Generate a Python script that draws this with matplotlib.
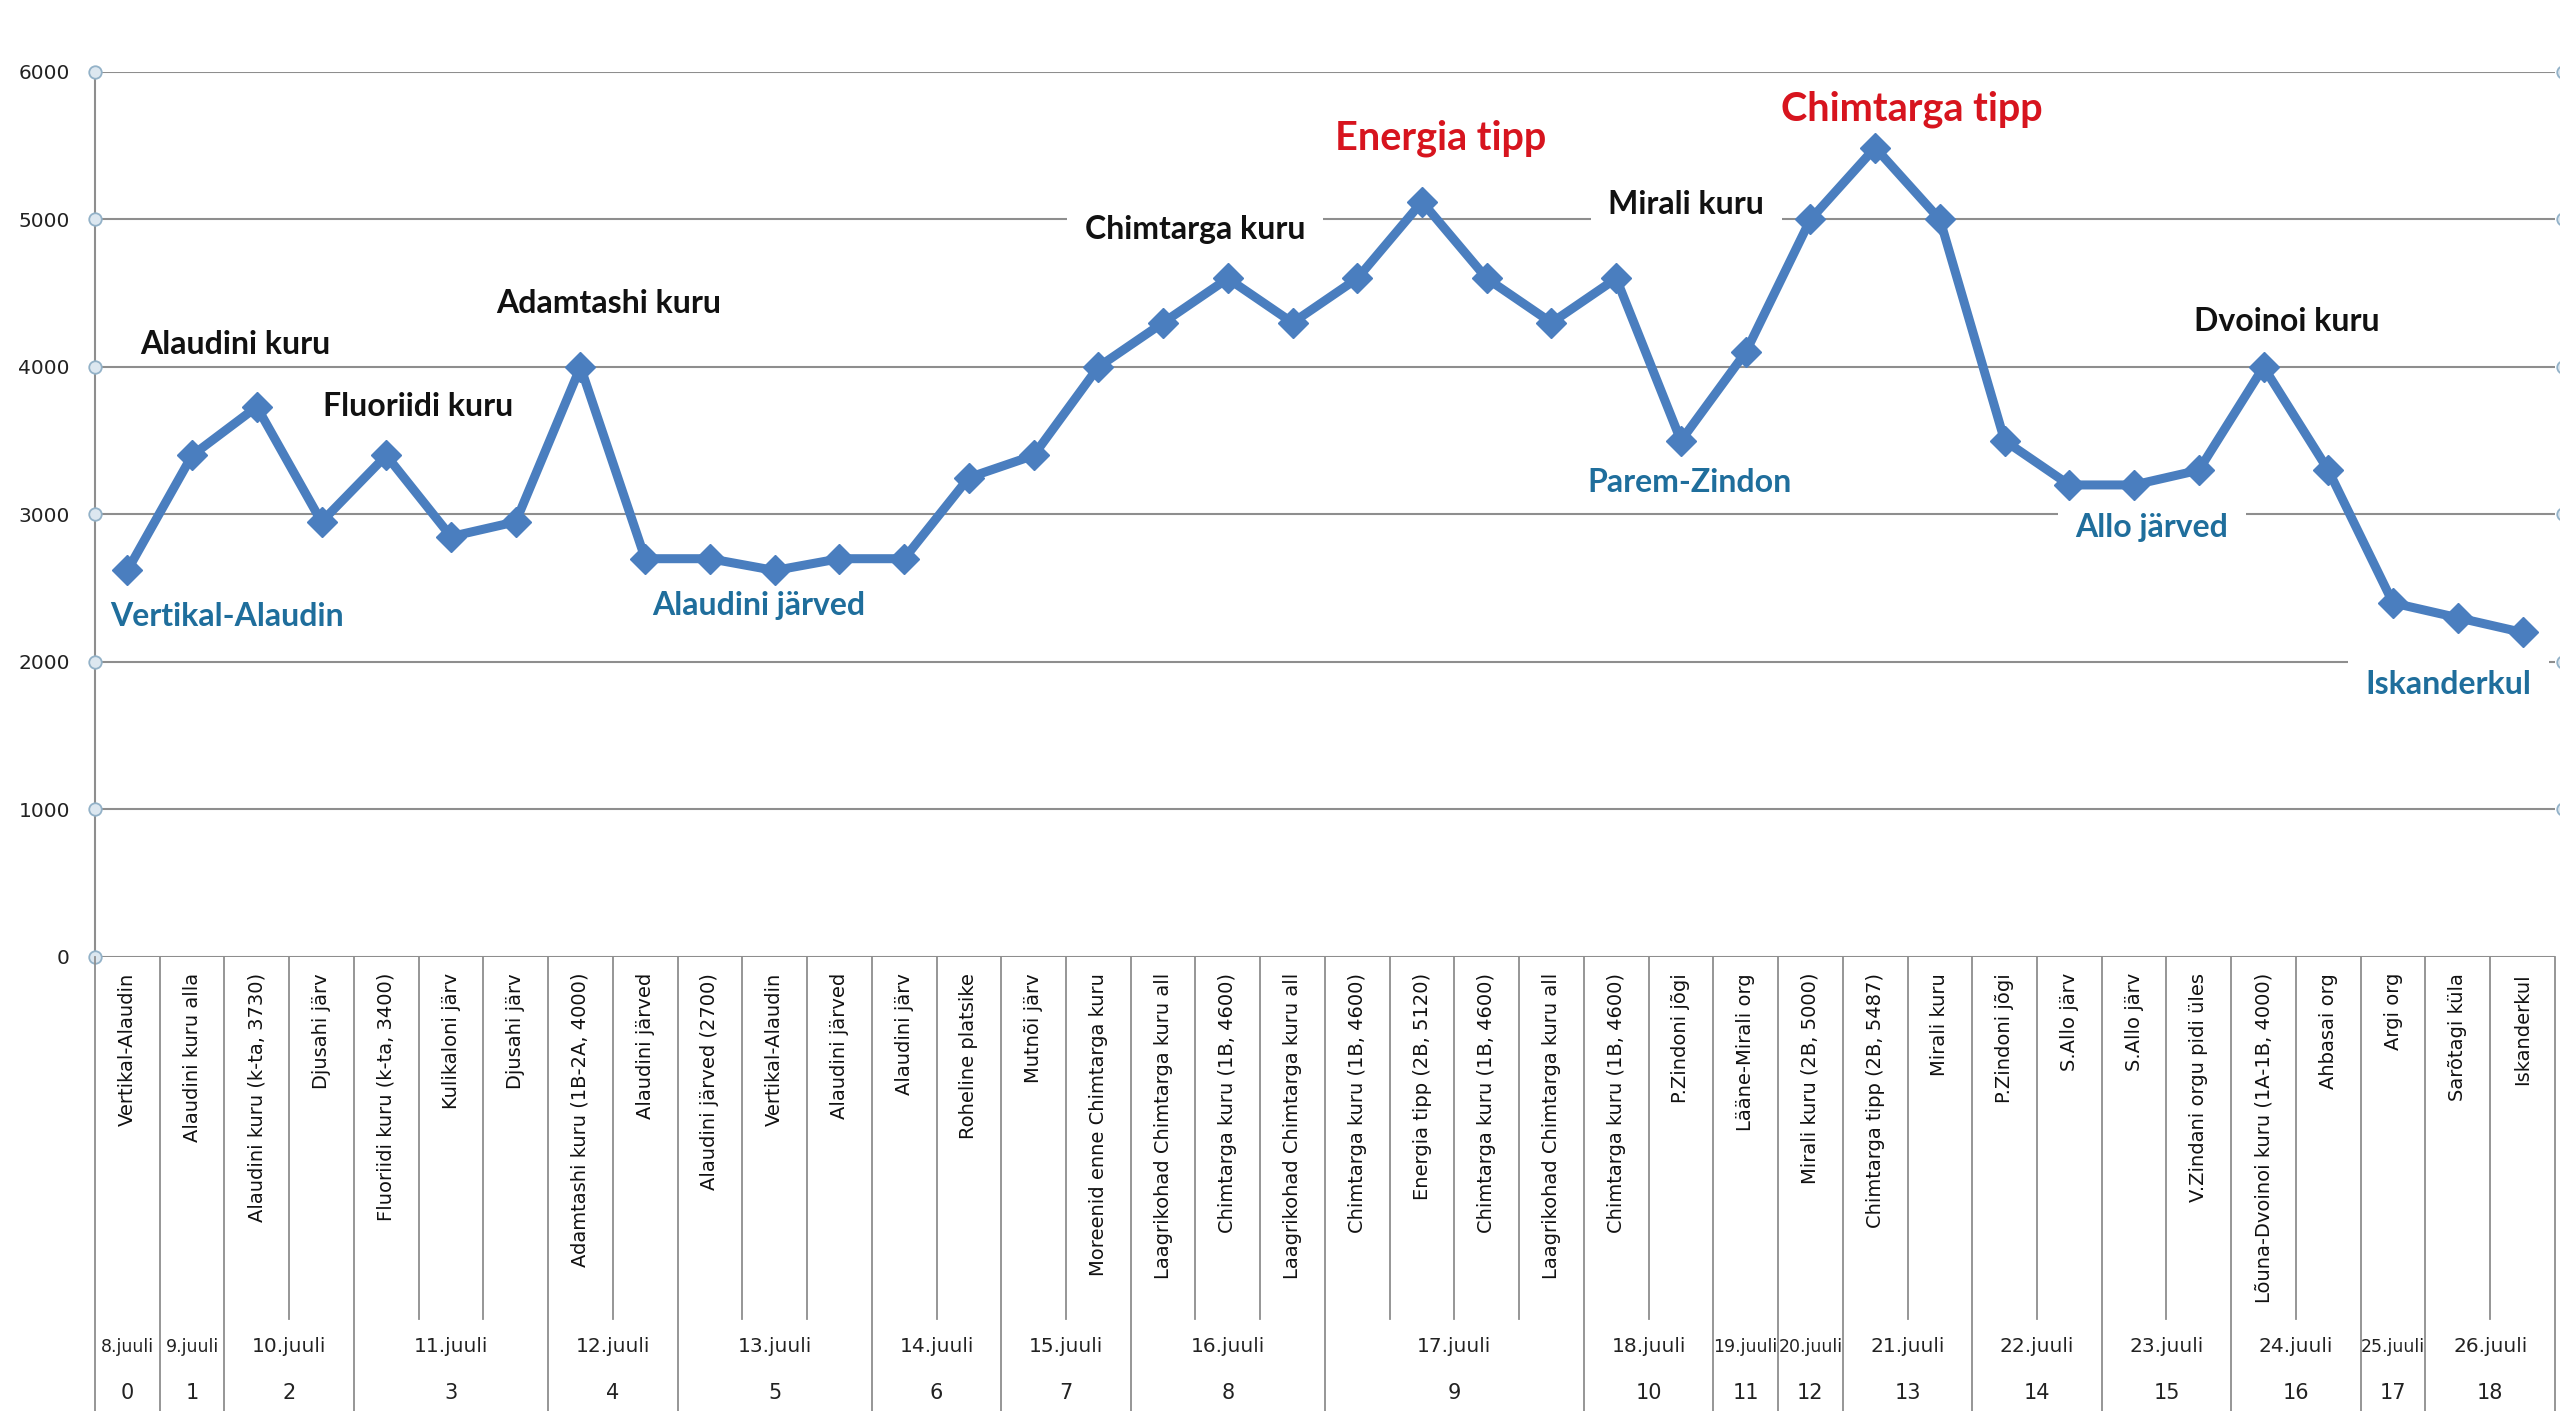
import numpy as np
import matplotlib
matplotlib.use('Agg')
import matplotlib.pyplot as plt

# route points (category labels) and their heights in metres
points = [
    'Vertikal-Alaudin', 'Alaudini kuru alla',
    'Alaudini kuru (k-ta, 3730)', 'Djusahi järv',
    'Fluoriidi kuru (k-ta, 3400)', 'Kulikaloni järv', 'Djusahi järv',
    'Adamtashi kuru (1B-2A, 4000)', 'Alaudini järved',
    'Alaudini järved (2700)', 'Vertikal-Alaudin', 'Alaudini järved',
    'Alaudini järv', 'Roheline platsike',
    'Mutnõi järv', 'Moreenid enne Chimtarga kuru',
    'Laagrikohad Chimtarga kuru all', 'Chimtarga kuru (1B, 4600)', 'Laagrikohad Chimtarga kuru all',
    'Chimtarga kuru (1B, 4600)', 'Energia tipp (2B, 5120)', 'Chimtarga kuru (1B, 4600)',
    'Laagrikohad Chimtarga kuru all',
    'Chimtarga kuru (1B, 4600)', 'P.Zindoni jõgi',
    'Lääne-Mirali org',
    'Mirali kuru (2B, 5000)',
    'Chimtarga tipp (2B, 5487)', 'Mirali kuru',
    'P.Zindoni jõgi', 'S.Allo järv',
    'S.Allo järv', 'V.Zindani orgu pidi üles',
    'Lõuna-Dvoinoi kuru (1A-1B, 4000)', 'Ahbasai org',
    'Argi org',
    'Sarõtagi küla', 'Iskanderkul',
]
heights = [2620, 3400, 3730, 2950, 3400, 2850, 2950, 4000, 2700, 2700,
           2620, 2700, 2700, 3250, 3400, 4000, 4300, 4600, 4300, 4600,
           5120, 4600, 4300, 4600, 3500, 4100, 5000, 5487, 5000, 3500,
           3200, 3200, 3300, 4000, 3300, 2400, 2300, 2200]

dates = ['8.juuli', '9.juuli', '10.juuli', '11.juuli', '12.juuli', '13.juuli',
         '14.juuli', '15.juuli', '16.juuli', '17.juuli', '18.juuli', '19.juuli',
         '20.juuli', '21.juuli', '22.juuli', '23.juuli', '24.juuli', '25.juuli',
         '26.juuli']
group_sizes = [1, 1, 2, 3, 2, 3, 2, 2, 3, 4, 2, 1, 1, 2, 2, 2, 2, 1, 2]
day_numbers = [0, 1, 2, 3, 4, 5, 6, 7, 8, 9, 10, 11, 12, 13, 14, 15, 16, 17, 18]

# annotations: passes (black), summits (red), camps (blue)
passes = ['Alaudini kuru', 'Fluoriidi kuru', 'Adamtashi kuru', 'Chimtarga kuru',
          'Mirali kuru', 'Dvoinoi kuru']
passes_x = [1.67, 4.49, 7.44, 16.49, 24.08, 33.36]
passes_y = [4150, 3730, 4430, 4930, 5100, 4310]

summits = ['Energia tipp', 'Chimtarga tipp']
summits_x = [20.28, 27.56]
summits_y = [5550, 5750]

camps = ['Vertikal-Alaudin', 'Alaudini järved', 'Parem-Zindon', 'Allo järved', 'Iskanderkul']
camps_x = [1.54, 9.76, 24.13, 31.27, 35.86]
camps_y = [2310, 2380, 3220, 2910, 1850]

# labels whose white box hides the gridline behind them
masked = {'Chimtarga kuru', 'Mirali kuru', 'Allo järved', 'Iskanderkul'}

grid_col = '#8e8e8e'
line_col = '#4a7ebf'

fig = plt.figure(figsize=(25.6, 14.11), dpi=100)
L, B, W, H = 0.0371, 0.3218, 0.9609, 0.6272
ax = fig.add_axes([L, B, W, H])

x = np.arange(len(heights))
ax.set_xlim(-0.5, len(heights) - 0.5)
ax.set_ylim(0, 6000)
ax.set_yticks(range(0, 7000, 1000))
ax.set_xticks([])
ax.yaxis.grid(True, color=grid_col, lw=1.5)
ax.set_axisbelow(True)
for s in ['top', 'right', 'bottom']:
    ax.spines[s].set_visible(False)
ax.spines['left'].set_color(grid_col)
ax.spines['left'].set_linewidth(1.5)
ax.tick_params(axis='y', length=0, pad=18, labelsize=14.5, labelcolor='#222222')

ax.plot(x, heights, color=line_col, lw=6.5, marker='D', ms=15,
        mec=line_col, zorder=3)

# selection handles on the gridline ends
ax.plot([-0.5] * 7, range(0, 7000, 1000), 'o', ms=9, mfc='#dce7f0', mec='#93b2c8',
        mew=1.3, clip_on=False, zorder=5)
ax.plot([len(heights) - 0.5 + 0.12] * 6, range(1000, 7000, 1000), 'o', ms=9,
        mfc='#dce7f0', mec='#93b2c8', mew=1.3, clip_on=False, zorder=5)


def label(names, xs, ys, color, size, weight='bold'):
    for n, tx, ty in zip(names, xs, ys):
        box = None
        if n in masked:
            box = dict(boxstyle='square,pad=0.55', fc='white', ec='none')
        ax.text(tx, ty, n, color=color, fontsize=size, fontweight=weight,
                family=['Lato', 'DejaVu Sans'], ha='center', va='center',
                bbox=box, zorder=2.5)


label(passes, passes_x, passes_y, '#111111', 23)
label(summits, summits_x, summits_y, '#d7141e', 28.5)
label(camps, camps_x, camps_y, '#1f6e9c', 23)

# multi-level category axis below the plot
cax = fig.add_axes([L, 0, W, B])
cax.set_xlim(-0.5, len(heights) - 0.5)
cax.set_ylim(454, 0)
cax.axis('off')

bounds = np.cumsum([0] + group_sizes)
for b in range(len(heights) + 1):
    bottom = 454 if b in bounds else 362
    cax.plot([b - 0.5, b - 0.5], [0, bottom], color=grid_col, lw=1.3, clip_on=False)

for i, name in enumerate(points):
    cax.text(i, 16, name, rotation=90, ha='center', va='top', fontsize=14,
             color='#111111')

for d, n, a, s in zip(dates, day_numbers, bounds[:-1], group_sizes):
    c = a + (s - 1) / 2
    # one-day cells are narrow, so their dates get a smaller size
    fs = 14.5 if s > 1 else 12.5
    cax.text(c, 390, d, ha='center', va='center', fontsize=fs, color='#222222')
    cax.text(c, 436, str(n), ha='center', va='center', fontsize=15, color='#222222')

fig.savefig('out.png', dpi=100)
